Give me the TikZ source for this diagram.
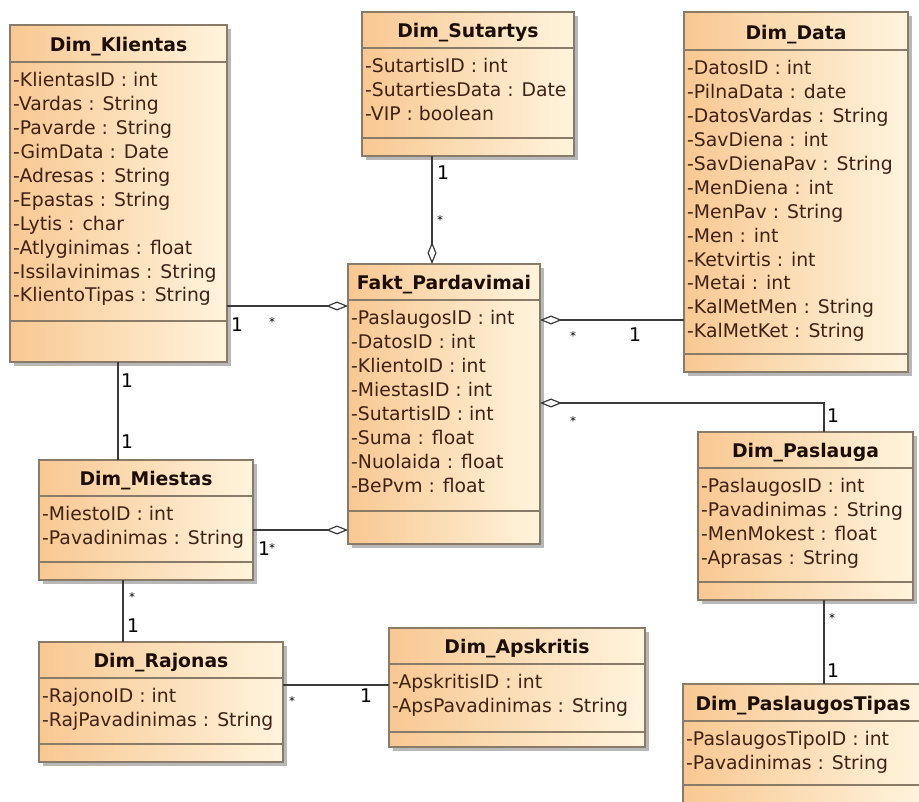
\documentclass[tikz,border=0pt]{standalone}
\usepackage{fontspec}
\setmainfont{DejaVu Sans}
\usetikzlibrary{arrows.meta,shadows}

\definecolor{boxL}{HTML}{F8C892}
\definecolor{boxR}{HTML}{FFF4DD}
\definecolor{boxEdge}{HTML}{8A7B68}
\definecolor{attrInk}{HTML}{3F2216}
\definecolor{titleInk}{HTML}{1C0E06}
\definecolor{lineInk}{HTML}{3A3A3A}

\tikzset{
  classbox/.style={draw=boxEdge, line width=1.3pt, left color=boxL, right color=boxR,
    inner sep=0pt, outer sep=0pt, anchor=north west,
    drop shadow={shadow xshift=4pt, shadow yshift=-4pt, fill=black, opacity=0.28}},
  sepline/.style={draw=boxEdge, line width=1.2pt},
  classtitle/.style={font=\fontsize{18.8}{24}\selectfont\bfseries, text=titleInk, inner sep=0pt, anchor=base},
  attr/.style={font=\fontsize{18.8}{24}\selectfont, text=attrInk, inner sep=0pt, anchor=base west},
  assoc/.style={draw=lineInk, line width=1.2pt},
  aggend/.style={-{Diamond[open, length=22pt, width=9pt, line width=1.2pt]}},
  aggstart/.style={{Diamond[open, length=22pt, width=9pt, line width=1.2pt]}-},
  mult/.style={font=\fontsize{18.8}{24}\selectfont, text=black, inner sep=0pt, anchor=base west},
  many/.style={font=\fontsize{12}{12}\selectfont, text=black, inner sep=0pt, anchor=base},
}

% \umlclass{name}{x1}{y1}{x2}{y2}{title separator}{attribute separator}{title}{attributes}
\newcommand{\umlclass}[9]{%
  \node[classbox, minimum width={(#4-#2)*1pt}, minimum height={(#5-#3)*1pt}] (#1) at (#2,#3) {};
  \draw[sepline] (#1.west |- 0,#6) -- (#1.east |- 0,#6);
  \draw[sepline] (#1.west |- 0,#7) -- (#1.east |- 0,#7);
  \node[classtitle] (#1-title) at ({(#2+#4)/2},{#6-10.5}) {#8};
  \foreach \a [count=\i] in {#9}
    \node[attr] (#1-a\i) at ({#2+3},{#6+1+23.9*\i}) {\a};
}

\begin{document}
\begin{tikzpicture}[x=1pt,y=-1pt]
\clip (0,0) rectangle (919,802);
\fill[white] (0,0) rectangle (919,802);

\umlclass{kl}{10}{25}{227}{362}{62}{321}{Dim\_Klientas}
  {-KlientasID : int, -Vardas : String, -Pavarde : String, -GimData : Date,
   -Adresas : String, -Epastas : String, -Lytis : char, -Atlyginimas : float,
   -Issilavinimas : String, -KlientoTipas : String}
\umlclass{sut}{362}{12}{574}{156}{48}{138}{Dim\_Sutartys}
  {-SutartisID : int, -SutartiesData : Date, -VIP : boolean}
\umlclass{dat}{684}{12}{908}{372}{50}{354}{Dim\_Data}
  {-DatosID : int, -PilnaData : date, -DatosVardas : String, -SavDiena : int,
   -SavDienaPav : String, -MenDiena : int, -MenPav : String, -Men : int,
   -Ketvirtis : int, -Metai : int, -KalMetMen : String, -KalMetKet : String}
\umlclass{fakt}{348}{264}{540}{544}{300}{511}{Fakt\_Pardavimai}
  {-PaslaugosID : int, -DatosID : int, -KlientoID : int, -MiestasID : int,
   -SutartisID : int, -Suma : float, -Nuolaida : float, -BePvm : float}
\umlclass{mie}{39}{460}{253}{580}{496}{562}{Dim\_Miestas}
  {-MiestoID : int, -Pavadinimas : String}
\umlclass{raj}{39}{642}{283}{762}{678}{744}{Dim\_Rajonas}
  {-RajonoID : int, -RajPavadinimas : String}
\umlclass{aps}{389}{628}{645}{747}{664}{732}{Dim\_Apskritis}
  {-ApskritisID : int, -ApsPavadinimas : String}
\umlclass{pas}{698}{432}{913}{600}{468}{582}{Dim\_Paslauga}
  {-PaslaugosID : int, -Pavadinimas : String, -MenMokest : float, -Aprasas : String}
\umlclass{pt}{683}{684}{923}{812}{721}{785}{Dim\_PaslaugosTipas}
  {-PaslaugosTipoID : int, -Pavadinimas : String}

% associations
\draw[assoc, aggend] (kl.east |- 0,306) -- (fakt.west |- 0,306);
\draw[assoc, aggend] (sut.south -| 432,0) -- (fakt.north -| 432,0);
\draw[assoc, aggstart] (fakt.east |- 0,320) -- (dat.west |- 0,320);
\draw[assoc, aggstart] (fakt.east |- 0,403) -| (pas.north -| 824,0);
\draw[assoc] (kl.south -| 118,0) -- (mie.north -| 118,0);
\draw[assoc, aggend] (mie.east |- 0,530) -- (fakt.west |- 0,530);
\draw[assoc] (mie.south -| 123,0) -- (raj.north -| 123,0);
\draw[assoc] (raj.east |- 0,685) -- (aps.west |- 0,685);
\draw[assoc] (pas.south -| 824,0) -- (pt.north -| 824,0);

% multiplicities
\node[mult] (m1a) at (231,332) {1};
\node[many] (m1b) at (272,327) {*};
\node[mult] (m2a) at (437,180) {1};
\node[many] (m2b) at (440,225) {*};
\node[many] (m3a) at (573,341) {*};
\node[mult] (m3b) at (629,342) {1};
\node[many] (m4a) at (573,425) {*};
\node[mult] (m4b) at (827,422) {1};
\node[mult] (m5a) at (121,388) {1};
\node[mult] (m5b) at (121,448) {1};
\node[mult] (m6a) at (258,555) {1};
\node[many] (m6b) at (272,552) {*};
\node[many] (m7a) at (132,601) {*};
\node[mult] (m7b) at (127,632) {1};
\node[many] (m8a) at (292,705) {*};
\node[mult] (m8b) at (360,702) {1};
\node[many] (m9a) at (832,622) {*};
\node[mult] (m9b) at (827,677) {1};
\end{tikzpicture}
\end{document}
